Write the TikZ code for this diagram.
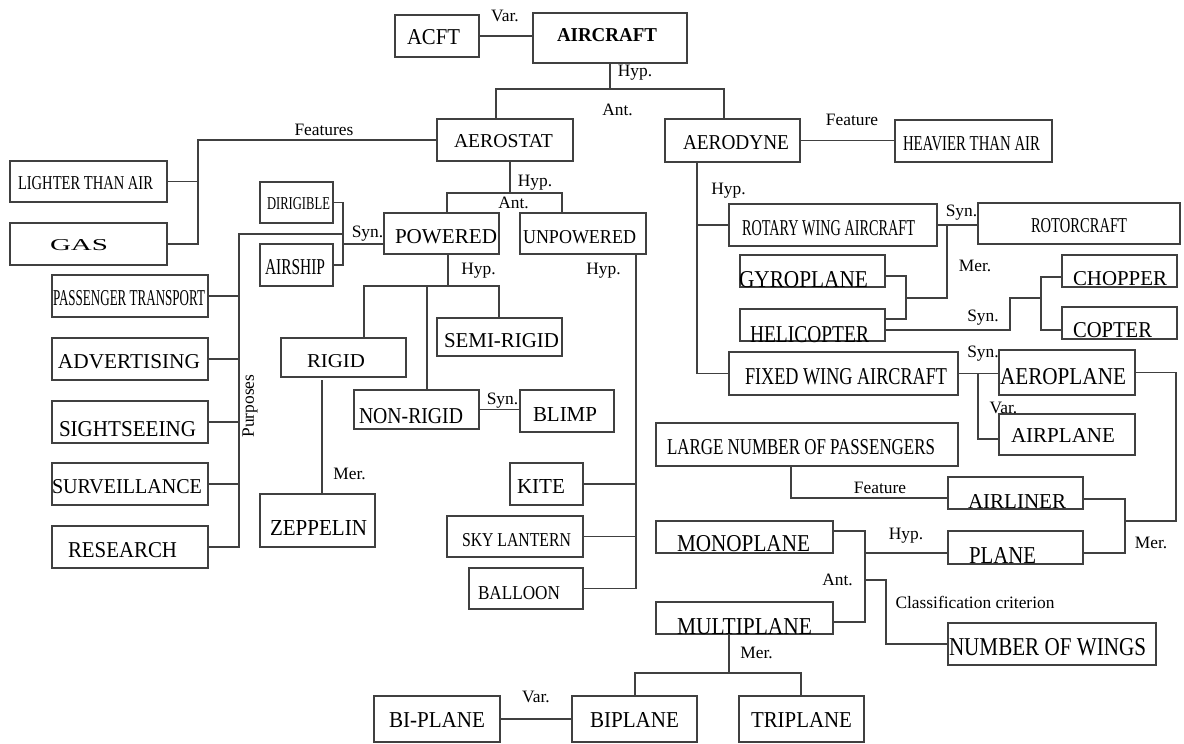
\documentclass[tikz,border=0pt]{standalone}
\usepackage{fontspec}
\setmainfont{Liberation Serif}
\newlength\pu
\setlength\pu{0.5pt}
\def\dgget#1,#2,#3,#4\relax{\def\dgxa{#1}\def\dgya{#2}\def\dgxb{#3}\def\dgyb{#4}}
% #1 name, #2 x1,y1,x2,y2, #3 text width px, #4 cap height px, #5 dx, #6 dy (down), #7 text
\newcommand\dgbox[7]{%
 \dgget#2\relax
 \pgfmathsetmacro\dgcx{(\dgxa+\dgxb)/2}%
 \pgfmathsetmacro\dgcy{(\dgya+\dgyb)/2}%
 \pgfmathsetmacro\dgw{\dgxb-\dgxa}%
 \pgfmathsetmacro\dgh{\dgyb-\dgya}%
 \pgfmathsetmacro\dgX{#5-#3/2}%
 \pgfmathsetmacro\dgY{0-(#6)-#4/2}%
 \node[box,minimum width=\dgw\pu,minimum height=\dgh\pu,text height=0pt,text depth=0pt] (#1) at (\dgcx,\dgcy) {\makebox[0pt][l]{\hspace*{\dgX\pu}\raisebox{\dgY\pu}{\resizebox{#3\pu}{#4\pu}{#7}}}};%
}
\begin{document}
\begin{tikzpicture}[x=0.5pt,y=-0.5pt,
  box/.style={draw=black!75,line width=0.7pt,inner sep=0pt,outer sep=0pt},
  lab/.style={font=\fontsize{8.7}{10}\selectfont,inner sep=0pt},
  con/.style={draw=black!75,line width=0.7pt}]
\useasboundingbox (0,0) rectangle (1184,744);

% boxes
\dgbox{acft}{395,15,479,57}{53}{15}{-3.5}{1.5}{ACFT}
\dgbox{aircraft}{533,13,687,63}{100}{13}{-3}{-3}{\bfseries AIRCRAFT}
\dgbox{aerostat}{437,119,573,161}{99}{13}{-1.5}{0.5}{AEROSTAT}
\dgbox{aerodyne}{665,119,800,162}{106}{14}{3.5}{2.5}{AERODYNE}
\dgbox{heavier}{895,120,1052,162}{137}{14}{-2}{2}{HEAVIER THAN AIR}
\dgbox{lighter}{10,161,167,202}{135}{13}{-3}{1}{LIGHTER THAN AIR}
\dgbox{gas}{10,223,167,265}{58}{11}{-9.5}{1}{GAS}
\dgbox{dirigible}{260,182,333,223}{63}{12}{2}{0.5}{DIRIGIBLE}
\dgbox{airship}{260,244,333,286}{60}{15}{-1.5}{1.5}{AIRSHIP}
\dgbox{powered}{384,213,499,254}{102}{14}{4.5}{2.5}{POWERED}
\dgbox{unpowered}{520,213,646,254}{113}{13}{-3.5}{3}{UNPOWERED}
\dgbox{passenger}{52,275,208,317}{152}{15}{-1}{1.5}{PASSENGER TRANSPORT}
\dgbox{advertising}{52,338,208,380}{142}{14}{-1}{2}{ADVERTISING}
\dgbox{sightseeing}{52,401,208,443}{137}{15}{-2.5}{6.5}{SIGHTSEEING}
\dgbox{surveillance}{52,463,208,505}{150}{14}{-3}{2}{SURVEILLANCE}
\dgbox{research}{52,526,208,568}{109}{15}{-7.5}{2.5}{RESEARCH}
\dgbox{rigid}{281,338,406,377}{58}{13}{-7.5}{3}{RIGID}
\dgbox{semirigid}{437,318,562,356}{115}{14}{2}{3}{SEMI-RIGID}
\dgbox{nonrigid}{354,390,479,429}{104}{15}{-5.5}{6}{NON-RIGID}
\dgbox{blimp}{520,390,614,432}{64}{14}{-2}{3}{BLIMP}
\dgbox{zeppelin}{260,494,375,547}{97}{15}{1}{7}{ZEPPELIN}
\dgbox{kite}{510,463,583,505}{48}{14}{-5.5}{2}{KITE}
\dgbox{skylantern}{447,516,583,557}{109}{13}{1.5}{3}{SKY LANTERN}
\dgbox{balloon}{469,568,583,609}{82}{13}{-7}{4}{BALLOON}
\dgbox{rotary}{729,204,937,246}{173}{15}{-4.5}{3}{ROTARY WING AIRCRAFT}
\dgbox{rotorcraft}{978,203,1180,244}{96}{14}{0}{1.5}{ROTORCRAFT}
\dgbox{gyroplane}{740,255,885,287}{129}{16}{-9}{8.5}{GYROPLANE}
\dgbox{helicopter}{740,309,885,341}{119}{16}{-3}{9}{HELICOPTER}
\dgbox{chopper}{1062,255,1177,287}{94}{14}{0.5}{7}{CHOPPER}
\dgbox{copter}{1062,307,1177,339}{79}{15}{-7}{6.5}{COPTER}
\dgbox{fixed}{729,352,958,395}{202}{16}{2.5}{2.5}{FIXED WING AIRCRAFT}
\dgbox{aeroplane}{999,350,1135,395}{126}{16}{-4}{3.5}{AEROPLANE}
\dgbox{airplane}{999,414,1135,455}{104}{14}{-4}{0.5}{AIRPLANE}
\dgbox{large}{656,423,958,466}{268}{15}{-6}{2}{LARGE NUMBER OF PASSENGERS}
\dgbox{airliner}{948,477,1083,509}{98}{14}{1.5}{8}{AIRLINER}
\dgbox{plane}{948,531,1083,564}{67}{16}{-13}{7.5}{PLANE}
\dgbox{monoplane}{656,521,833,553}{133}{16}{-1}{6}{MONOPLANE}
\dgbox{multiplane}{656,602,833,634}{135}{16}{0}{8}{MULTIPLANE}
\dgbox{wings}{948,623,1156,665}{197}{17}{-4.5}{2.5}{NUMBER OF WINGS}
\dgbox{biplanevar}{374,696,500,742}{96}{15}{0}{0.5}{BI-PLANE}
\dgbox{biplane}{572,696,697,742}{89}{15}{0}{0.5}{BIPLANE}
\dgbox{triplane}{739,696,864,742}{101}{15}{0}{0.5}{TRIPLANE}

% labels
\node[lab] (lvar1) at (505,15.5) {Var.};
\node[lab] (lhyp1) at (635,73) {Hyp.};
\node[lab] (lant1) at (617.5,110) {Ant.};
\node[lab] (lfeat1) at (324,130) {Features};
\node[lab] (lfeat2) at (852,120) {Feature};
\node[lab] (lhyp2) at (535,183) {Hyp.};
\node[lab] (lant2) at (513.5,203) {Ant.};
\node[lab] (lsyn1) at (367.5,234) {Syn.};
\node[lab] (lhyp3) at (478.5,271) {Hyp.};
\node[lab] (lhyp4) at (603.5,271) {Hyp.};
\node[lab] (lsyn2) at (502.5,401) {Syn.};
\node[lab] (lmer1) at (349.5,474) {Mer.};
\node[lab,rotate=90] (lpurp) at (250,406) {Purposes};
\node[lab] (lhyp5) at (728.5,191) {Hyp.};
\node[lab] (lsyn3) at (961.5,213) {Syn.};
\node[lab] (lmer2) at (975,266) {Mer.};
\node[lab] (lsyn4) at (983,318) {Syn.};
\node[lab] (lsyn5) at (983,354) {Syn.};
\node[lab] (lvar2) at (1003.5,408) {Var.};
\node[lab] (lfeat3) at (880,488) {Feature};
\node[lab] (lmer3) at (1151,542.5) {Mer.};
\node[lab] (lhyp6) at (906,536) {Hyp.};
\node[lab] (lant3) at (837.5,580) {Ant.};
\node[lab] (lcls) at (975,602) {Classification criterion};
\node[lab] (lmer4) at (756.5,653) {Mer.};
\node[lab] (lvar3) at (536,696.5) {Var.};

% connectors
\draw[con] (acft.east) -- (acft.east -| aircraft.west);
\coordinate (hA) at (496,89); \coordinate (hB) at (724,89);
\draw[con] (aircraft.south) -- (aircraft.south |- hA);
\draw[con] (aerostat.north -| hA) -- (hA) -- (hB) -- (aerodyne.north -| hB);

\coordinate (fA) at (198,140);
\draw[con] (aerostat.west) -- (aerostat.west -| fA) |- (gas.east);
\draw[con] (lighter.east) -- (lighter.east -| fA);
\draw[con] (aerodyne.east) -- (aerodyne.east -| heavier.west);

\coordinate (hC) at (510,193); \coordinate (hC1) at (447,193); \coordinate (hC2) at (562,193);
\draw[con] (aerostat.south -| hC) -- (hC);
\draw[con] (powered.north -| hC1) -- (hC1) -- (hC2) -- (unpowered.north -| hC2);

\coordinate (sA) at (343,244);
\draw[con] (dirigible.east) -- (dirigible.east -| sA) -- (airship.east -| sA) -- (airship.east);
\draw[con] (sA) -- (sA -| powered.west);
\coordinate (pA) at (343,234); \coordinate (pB) at (239,234);
\draw[con] (pA) -- (pB) -- (research.east -| pB) -- (research.east);
\foreach \n in {passenger,advertising,sightseeing,surveillance}
  \draw[con] (\n.east) -- (\n.east -| pB);

\coordinate (hD) at (448,286); \coordinate (hD1) at (364,286);
\coordinate (hD2) at (499,286); \coordinate (hD3) at (427,286);
\draw[con] (powered.south -| hD) -- (hD);
\draw[con] (rigid.north -| hD1) -- (hD1) -- (hD2) -- (semirigid.north -| hD2);
\draw[con] (hD3) -- (nonrigid.north -| hD3);
\coordinate (mZ) at (322,380);
\draw[con] (mZ) -- (zeppelin.north -| mZ);
\draw[con] (nonrigid.east) -- (nonrigid.east -| blimp.west);

\coordinate (uA) at (636,254);
\draw[con] (unpowered.south -| uA) -- (balloon.east -| uA) -- (balloon.east);
\draw[con] (kite.east) -- (kite.east -| uA);
\draw[con] (skylantern.east) -- (skylantern.east -| uA);

\coordinate (dA) at (697,162);
\draw[con] (aerodyne.south -| dA) -- (fixed.west -| dA) -- (fixed.west);
\draw[con] (rotary.west -| dA) -- (rotary.west);
\draw[con] (rotary.east) -- (rotary.east -| rotorcraft.west);
\coordinate (mA) at (947,298); \coordinate (mB) at (906,298);
\coordinate (mG) at (906,276); \coordinate (mH) at (906,319);
\draw[con] (rotary.east -| mA) -- (mA) -- (mB);
\draw[con] (gyroplane.east |- mG) -- (mG) -- (mH) -- (helicopter.east |- mH);
\coordinate (cA) at (1010,330); \coordinate (cB) at (1041,298);
\coordinate (cC) at (1041,277); \coordinate (cD) at (1041,330);
\draw[con] (helicopter.east |- cA) -- (cA) |- (cB);
\draw[con] (chopper.west |- cC) -- (cC) -- (cD) -- (copter.west |- cD);

\draw[con] (fixed.east) -- (fixed.east -| aeroplane.west);
\coordinate (vA) at (978,439);
\draw[con] (fixed.east -| vA) -- (vA) -- (vA -| airplane.west);

\coordinate (rA) at (1176,521); \coordinate (rB) at (1125,521);
\coordinate (rC) at (1125,499); \coordinate (rD) at (1125,553);
\draw[con] (aeroplane.east) -| (rA) -- (rB);
\draw[con] (airliner.east |- rC) -- (rC) -- (rD) -- (plane.east |- rD);

\coordinate (fB) at (791,498);
\draw[con] (large.south -| fB) -- (fB) -- (fB -| airliner.west);

\coordinate (aA) at (865,531); \coordinate (aB) at (865,622);
\coordinate (aC) at (865,553); \coordinate (aD) at (865,580); \coordinate (aE) at (886,644);
\draw[con] (monoplane.east |- aA) -- (aA) -- (aB) -- (multiplane.east |- aB);
\draw[con] (aC) -- (aC -| plane.west);
\draw[con] (aD) -| (aE) -- (aE -| wings.west);

\coordinate (mM) at (729,673); \coordinate (mL) at (635,673); \coordinate (mR) at (801,673);
\draw[con] (multiplane.south -| mM) -- (mM);
\draw[con] (biplane.north -| mL) -- (mL) -- (mR) -- (triplane.north -| mR);
\draw[con] (biplanevar.east) -- (biplanevar.east -| biplane.west);
\end{tikzpicture}
\end{document}
